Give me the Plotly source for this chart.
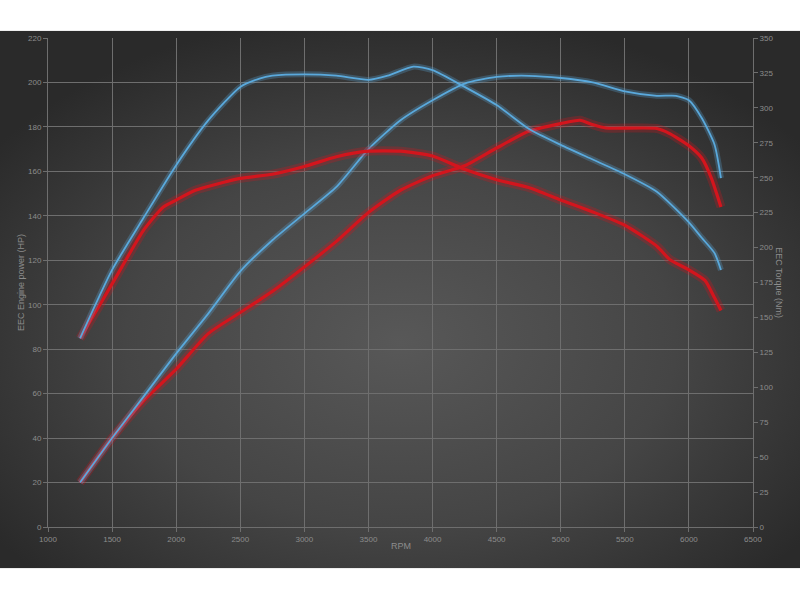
import base64
import plotly.graph_objects as go

# ---- data ----
rpm_power_blue = [1250, 1500, 1750, 2000, 2250, 2500, 2750, 3000, 3250, 3500, 3750, 4000,
                  4250, 4500, 4750, 5000, 5250, 5500, 5750, 5900, 6000, 6100, 6200, 6250]
power_blue = [20, 40, 59, 78, 96, 115, 129, 141, 153, 170, 183, 192,
              199.5, 202.5, 203, 202, 200, 196, 194, 194, 192, 184, 172, 157]

rpm_power_red = [1250, 1500, 1750, 2000, 2250, 2500, 2750, 3000, 3250, 3500, 3750, 4000,
                 4250, 4500, 4750, 5000, 5150, 5250, 5350, 5750, 5850, 6000, 6100, 6175, 6250]
power_red = [20, 40, 57, 71, 87, 96.5, 106, 117, 128.5, 141.5, 151.5, 158,
             162.5, 170.5, 178, 181.5, 183, 181, 179.5, 179.3, 177, 171.5, 166, 157, 144]

rpm_torque_blue = [1250, 1500, 1750, 2000, 2250, 2500, 2650, 2750, 3000, 3250, 3500, 3650,
                   3850, 4000, 4250, 4500, 4750, 5000, 5250, 5500, 5750, 6000, 6100, 6200, 6250]
torque_blue = [135, 184, 222, 259, 291, 315, 321, 323, 324, 323, 320, 323,
               329.5, 327, 315, 302, 285, 273.5, 263, 252.5, 240, 218, 207, 196, 184]

rpm_torque_red = [1250, 1500, 1750, 1900, 2000, 2150, 2500, 2750, 3000, 3250, 3500, 3750,
                  4000, 4250, 4500, 4750, 5000, 5250, 5500, 5750, 5850, 6000, 6125, 6200, 6250]
torque_red = [135, 174, 213, 229, 234, 241, 249.5, 252.5, 258, 265, 269, 269,
              265.5, 256, 248.5, 243, 234, 225.5, 216, 201, 191.5, 184, 176.5, 164, 155]

rpm_ticks = list(range(1000, 6501, 500))
hp_ticks = list(range(0, 221, 20))
nm_ticks = list(range(0, 351, 25))

BLUE = "#5aa9dc"
RED = "#d3151d"
TICK = "#8c8c8c"
GRID = "#6e6e6e"
FONT = "Liberation Sans"

# radial gradient backdrop as an inline svg
svg = """<svg xmlns='http://www.w3.org/2000/svg' width='800' height='537' viewBox='0 0 800 537'>
<defs><radialGradient id='g' cx='0.5' cy='0.58' r='0.62'>
<stop offset='0' stop-color='#585858'/><stop offset='0.55' stop-color='#454545'/>
<stop offset='1' stop-color='#2a2a2a'/></radialGradient></defs>
<rect width='800' height='537' fill='url(#g)'/></svg>"""
bg_src = "data:image/svg+xml;base64," + base64.b64encode(svg.encode()).decode()

fig = go.Figure()


def add_curve(x, y, color, width, glow, axis):
    fig.add_trace(go.Scatter(x=x, y=y, mode="lines", yaxis=axis, hoverinfo="skip",
                             line=dict(color=color, width=glow, shape="spline", smoothing=0.6),
                             opacity=0.28, showlegend=False))
    fig.add_trace(go.Scatter(x=x, y=y, mode="lines", yaxis=axis,
                             line=dict(color=color, width=width, shape="spline", smoothing=0.6),
                             showlegend=False))


add_curve(rpm_torque_red, torque_red, RED, 3.2, 9, "y2")
add_curve(rpm_power_red, power_red, RED, 3.2, 9, "y")
add_curve(rpm_torque_blue, torque_blue, BLUE, 1.8, 6, "y2")
add_curve(rpm_power_blue, power_blue, BLUE, 1.8, 6, "y")

# plot area spans x 47.5..752.7, y 38.3..526.7 px
L, R, T, B = 47.5, 47.3, 38.3, 73.3
pw, ph = 800 - L - R, 600 - T - B

fig.add_layout_image(dict(source=bg_src, xref="paper", yref="paper",
                          x=-(L + 4) / pw, y=(526.7 - 31) / ph,
                          sizex=808 / pw, sizey=537 / ph,
                          xanchor="left", yanchor="top", sizing="stretch", layer="below"))

fig.update_layout(
    width=800, height=600,
    margin=dict(l=L, r=R, t=T, b=B, pad=0),
    paper_bgcolor="white",
    plot_bgcolor="rgba(0,0,0,0)",
    font=dict(family=FONT, size=8, color=TICK),
    xaxis=dict(range=[1000, 6500], tickvals=rpm_ticks, showgrid=True, gridcolor=GRID,
               gridwidth=1, zeroline=False, showline=True, linecolor=GRID, ticks="outside",
               ticklen=4, tickcolor=GRID, tickfont=dict(size=8, color=TICK)),
    yaxis=dict(range=[0, 220], tickvals=hp_ticks, showgrid=True, gridcolor=GRID,
               gridwidth=1, zeroline=False, showline=True, linecolor=GRID, ticks="outside",
               ticklen=4, tickcolor=GRID, tickfont=dict(size=8, color=TICK)),
    yaxis2=dict(range=[0, 350], tickvals=nm_ticks, overlaying="y", side="right",
                showgrid=False, zeroline=False, showline=True, linecolor=GRID,
                ticks="outside", ticklen=4, tickcolor=GRID, tickfont=dict(size=8, color=TICK)),
    annotations=[
        dict(text="RPM", xref="paper", yref="paper", x=0.5, y=(526.7 - 553) / ph,
             showarrow=False, font=dict(size=9, color=TICK)),
        dict(text="EEC Engine power (HP)", xref="paper", yref="paper", x=(13 - L) / pw,
             y=0.5, textangle=-90, showarrow=False, font=dict(size=9, color=TICK)),
        dict(text="EEC Torque (Nm)", xref="paper", yref="paper", x=(786 - L) / pw,
             y=0.5, textangle=90, showarrow=False, font=dict(size=9, color=TICK)),
    ],
)

# drop the default body margin so the 800x600 figure sits flush in the window
fig.write_html("out.html", config={"displayModeBar": False},
               post_script="document.body.style.margin='0';"
                           "document.body.style.overflow='hidden';")
